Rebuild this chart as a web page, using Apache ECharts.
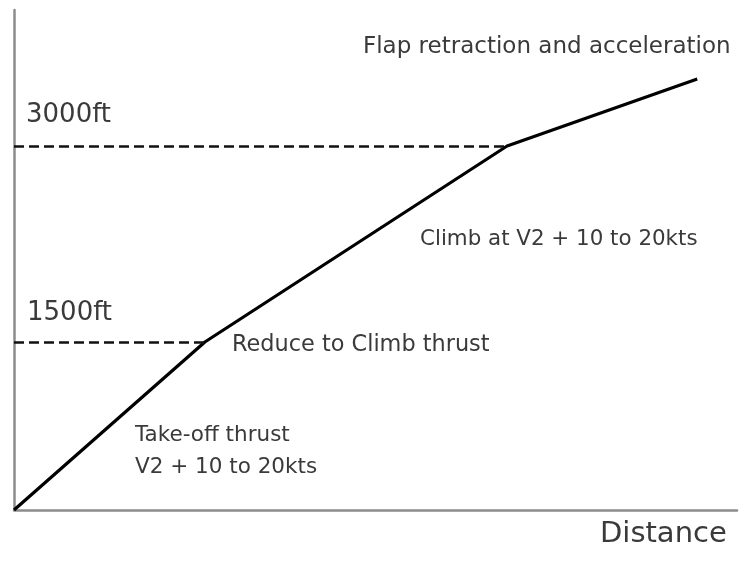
<!DOCTYPE html>
<html><head><meta charset="utf-8">
<script src="https://cdn.jsdelivr.net/npm/echarts@6/dist/echarts.min.js"></script>
<style>html,body{margin:0;padding:0;background:#fff}#c{width:756px;height:561px}</style>
</head><body><div id="c"></div>
<script>
// Schematic take-off profile (arbitrary distance / height units, 0-100)
const distance = [0, 26.4, 68.2, 94.5];
const height = [0, 33.6, 72.8, 86.2];
const levelLabels = ['1500ft', '3000ft'];
const levelIdx = [1, 2];
const notes = ['Take-off thrust\nV2 + 10 to 20kts', 'Reduce to Climb thrust', 'Climb at V2 + 10 to 20kts', 'Flap retraction and acceleration'];
const xName = 'Distance';

const FONT = 'DejaVu Sans';
const TXT = '#3a3a3a';
const chart = echarts.init(document.getElementById('c'));
const pts = distance.map((d, i) => [d, height[i]]);
const opt = {
  animation: false,
  backgroundColor: '#fff',
  grid: { left: 14, right: 19, top: 10, bottom: 51 },
  xAxis: { type: 'value', min: 0, max: 100, axisLine: { lineStyle: { color: '#8c8c8c', width: 2.5 } },
    axisTick: { show: false }, axisLabel: { show: false }, splitLine: { show: false } },
  yAxis: { type: 'value', min: 0, max: 100, axisLine: { show: true, lineStyle: { color: '#8c8c8c', width: 2.5 } },
    axisTick: { show: false }, axisLabel: { show: false }, splitLine: { show: false } },
  series: [{
    type: 'line', data: pts, symbol: 'none',
    lineStyle: { color: '#000', width: 3.2 },
    markLine: {
      symbol: 'none', silent: true,
      lineStyle: { color: '#111', width: 2.5, type: [10, 5] },
      label: { show: false },
      data: levelIdx.map(i => [{ coord: [0, height[i]] }, { coord: [distance[i], height[i]] }])
    }
  }]
};
chart.setOption(opt);
const t = (x, y, text, size, lh) => ({ type: 'text', style: { x, y, text, fill: TXT,
  font: size + 'px "' + FONT + '"', lineHeight: lh || size * 1.3, textVerticalAlign: 'middle' } });
chart.setOption({ graphic: [
  t(26, 115, levelLabels[1], 26),
  t(27, 313, levelLabels[0], 26),
  t(135, 451, notes[0], 21.5, 32),
  t(232, 345, notes[1], 22.4),
  t(420, 239, notes[2], 21.4),
  t(363, 47, notes[3], 23),
  t(600, 534, xName, 29)
]});
</script></body></html>
